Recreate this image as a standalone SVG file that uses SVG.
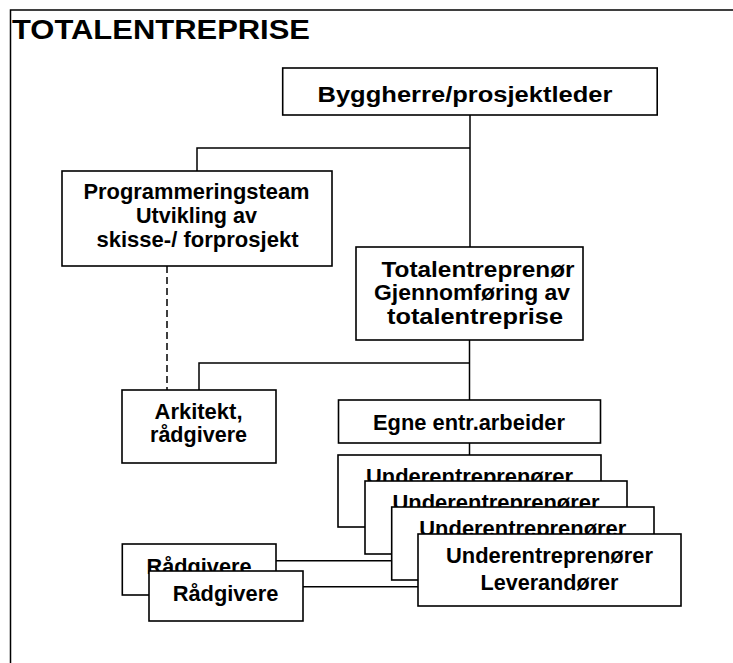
<svg xmlns="http://www.w3.org/2000/svg" width="733" height="663" viewBox="0 0 733 663">
<style>
.box{fill:#fff;stroke:#000;stroke-width:1.6}
.t{font-family:"Liberation Sans",Arial,sans-serif;font-weight:bold;font-size:22.5px;fill:#000;text-anchor:middle}
.c{fill:none;stroke:#000;stroke-width:1.5}
.d{fill:none;stroke:#000;stroke-width:1.5;stroke-dasharray:7 4}
</style>
<rect x="0" y="0" width="733" height="663" fill="#fff"/>
<g id="frame">
<path class="c" d="M10.5 663 V10 H733"/>
</g>
<g id="title">
<text x="12" y="39" font-family="Liberation Sans, Arial, sans-serif" font-weight="bold" font-size="27" textLength="298" lengthAdjust="spacingAndGlyphs">TOTALENTREPRISE</text>
</g>
<g id="connectors">
<path class="c" d="M470 115 V247"/>
<path class="c" d="M197 171 V148 H470"/>
<path class="d" d="M167 266 V390"/>
<path class="c" d="M469.5 340 V400"/>
<path class="c" d="M199 390 V363 H469.5"/>
<path class="c" d="M469.5 443 V455"/>
<path class="c" d="M276 560.7 H418"/>
<path class="c" d="M302.7 586.7 H418"/>
</g>
<g id="byggherre">
<rect class="box" x="282.7" y="68" width="374.5" height="47"/>
<text class="t" x="465" y="101.5" font-size="24.5" textLength="295" lengthAdjust="spacingAndGlyphs">Byggherre/prosjektleder</text>
</g>
<g id="programmeringsteam">
<rect class="box" x="62" y="171" width="270" height="95"/>
<text class="t" x="196.5" y="199" textLength="226" lengthAdjust="spacingAndGlyphs">Programmeringsteam</text>
<text class="t" x="196.5" y="223" textLength="121" lengthAdjust="spacingAndGlyphs">Utvikling av</text>
<text class="t" x="197.5" y="247" textLength="202" lengthAdjust="spacingAndGlyphs">skisse-/ forprosjekt</text>
</g>
<g id="totalentreprenor">
<rect class="box" x="356" y="247" width="227" height="93"/>
<text class="t" x="478" y="276.5" textLength="193" lengthAdjust="spacingAndGlyphs">Totalentreprenør</text>
<text class="t" x="472" y="300" textLength="196" lengthAdjust="spacingAndGlyphs">Gjennomføring av</text>
<text class="t" x="475" y="323.5" textLength="176" lengthAdjust="spacingAndGlyphs">totalentreprise</text>
</g>
<g id="arkitekt">
<rect class="box" x="122" y="390" width="154" height="73"/>
<text class="t" x="198.5" y="418.5" textLength="88" lengthAdjust="spacingAndGlyphs">Arkitekt,</text>
<text class="t" x="198.5" y="442" textLength="97" lengthAdjust="spacingAndGlyphs">rådgivere</text>
</g>
<g id="egne">
<rect class="box" x="338.5" y="400" width="262" height="43"/>
<text class="t" x="469" y="430" textLength="192" lengthAdjust="spacingAndGlyphs">Egne entr.arbeider</text>
</g>
<g id="underentreprenor1">
<rect class="box" x="338" y="455" width="263" height="72"/>
<text class="t" x="469.5" y="484" textLength="207" lengthAdjust="spacingAndGlyphs">Underentreprenører</text>
</g>
<g id="underentreprenor2">
<rect class="box" x="365" y="481" width="262" height="73"/>
<text class="t" x="496" y="510" textLength="207" lengthAdjust="spacingAndGlyphs">Underentreprenører</text>
</g>
<g id="underentreprenor3">
<rect class="box" x="391.7" y="507" width="262.3" height="73"/>
<text class="t" x="522.8" y="536" textLength="207" lengthAdjust="spacingAndGlyphs">Underentreprenører</text>
</g>
<g id="underentreprenor4">
<rect class="box" x="418" y="534" width="263" height="72"/>
<text class="t" x="549.5" y="563" textLength="207" lengthAdjust="spacingAndGlyphs">Underentreprenører</text>
<text class="t" x="549.5" y="590" textLength="138" lengthAdjust="spacingAndGlyphs">Leverandører</text>
</g>
<g id="radgivere1">
<rect class="box" x="122.3" y="544" width="153.7" height="51"/>
<text class="t" x="199" y="574" textLength="105" lengthAdjust="spacingAndGlyphs">Rådgivere</text>
</g>
<g id="radgivere2">
<rect class="box" x="149" y="571" width="154" height="50"/>
<text class="t" x="225.5" y="601" textLength="105.6" lengthAdjust="spacingAndGlyphs">Rådgivere</text>
</g>
</svg>
